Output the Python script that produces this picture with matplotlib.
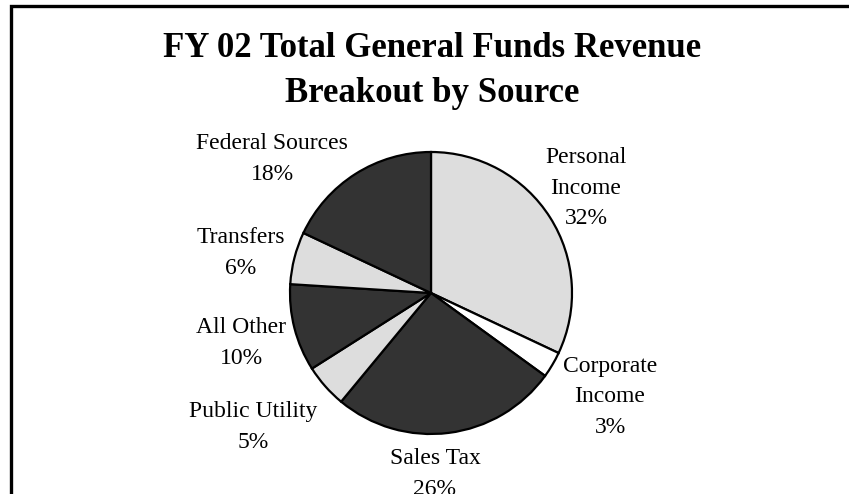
import matplotlib.pyplot as plt
from matplotlib.patches import Rectangle

# revenue shares, clockwise from 12 o'clock
sources = ["Personal\nIncome", "Corporate\nIncome", "Sales Tax", "Public Utility",
           "All Other", "Transfers", "Federal Sources"]
shares = [32, 3, 26, 5, 10, 6, 18]
fills = ["#dddddd", "#ffffff", "#333333", "#dddddd", "#333333", "#dddddd", "#333333"]

# label centres in pixels (layout only)
label_px = [(586, 188), (610, 397), (435, 474), (253, 427),
            (241, 343), (241, 253), (272, 159)]

W, H = 849, 494
cx, cy, r = 431, 293, 141

plt.rcParams['font.family'] = ['Liberation Serif', 'DejaVu Serif']

fig = plt.figure(figsize=(W / 100, H / 100), dpi=100)
ax = fig.add_axes([(cx - r) / W, (H - cy - r) / H, 2 * r / W, 2 * r / H])
ax.pie(shares, colors=fills, startangle=90, counterclock=False,
       wedgeprops=dict(edgecolor="black", linewidth=1.6))
ax.set_xlim(-1, 1)
ax.set_ylim(-1, 1)
ax.set_aspect("equal")
ax.axis("off")

for name, val, (px, py) in zip(sources, shares, label_px):
    fig.text(px / W, 1 - py / H, f"{name}\n{val}%", ha="center", va="center",
             fontsize=17, linespacing=1.6)

fig.text(432 / W, 1 - 71 / H, "FY 02 Total General Funds Revenue\nBreakout by Source",
         ha="center", va="center", fontsize=25, fontweight="bold", linespacing=1.5)

# outer frame, runs off the right and bottom edges
fig.patches.append(Rectangle((11 / W, -0.1), 1.0, 1 - 6 / H + 0.1,
                             transform=fig.transFigure, fill=False,
                             edgecolor="black", linewidth=2.4))

fig.savefig("out.png", dpi=100)
